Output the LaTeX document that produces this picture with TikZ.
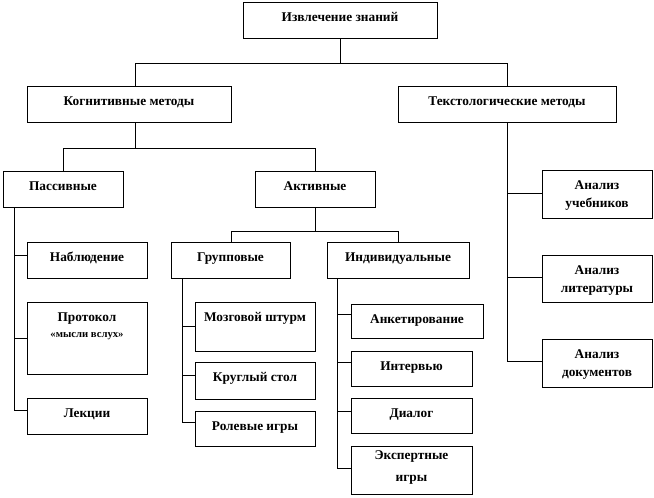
\documentclass[tikz,border=0pt]{standalone}
\usepackage{fontspec}
\setmainfont{Liberation Serif}
\usetikzlibrary{fit,calc}
\tikzset{
  box/.style={draw=black, line width=0.75pt, inner sep=0pt, fill=white},
  txt/.style={font=\bfseries\fontsize{10}{13.5}\selectfont, inner sep=0pt, align=center},
  conn/.style={draw=black, line width=0.75pt}
}
\newcommand\bx[6]{%
  \node[box, fit={(#2,#3) (#4,#5)}] (#1) {};
  \node[txt, anchor=base] (#1-t) at ($(#1.north)+(0,19)$) {#6};
}
\newcommand\bxii[8]{%
  \node[box, fit={(#2,#3) (#4,#5)}] (#1) {};
  \node[txt, anchor=base] (#1-t) at ($(#1.north)+(0,19)$) {#6};
  \node[txt, anchor=base] (#1-u) at ($(#1.north)+(0,#8)$) {#7};
}
\begin{document}
\begin{tikzpicture}[x=0.75pt,y=-0.75pt]
\useasboundingbox (0,0) rectangle (654,498);
\fill[white] (0,0) rectangle (654,498);
% boxes
\bx{top}{243}{3}{437}{39}{Извлечение знаний}
\bx{kog}{27}{87}{231}{123}{Когнитивные методы}
\bx{tek}{398}{87}{616}{123}{Текстологические методы}
\bx{pas}{3}{172}{123}{208}{Пассивные}
\bx{akt}{255}{172}{375}{208}{Активные}
\bx{grp}{171}{243}{290}{279}{Групповые}
\bx{ind}{327}{243}{469}{279}{Индивидуальные}
\bx{nab}{27}{243}{147}{279}{Наблюдение}
\node[box, fit={(27,303) (147,375)}] (prot) {};
\node[txt, anchor=base] (prot-t) at ($(prot.north)+(0,19)$) {Протокол};
\node[txt, anchor=base, font=\bfseries\fontsize{8}{10}\selectfont] (prot-t2) at ($(prot.north)+(0,35)$) {«мысли вслух»};
\bx{lek}{27}{399}{147}{435}{Лекции}
\bx{moz}{195}{303}{315}{352}{Мозговой штурм}
\bx{kru}{195}{363}{315}{400}{Круглый стол}
\bx{rol}{195}{412}{315}{447}{Ролевые игры}
\bx{ank}{351}{305}{483}{339}{Анкетирование}
\bx{int}{351}{352}{472}{387}{Интервью}
\bx{dia}{351}{399}{472}{434}{Диалог}
\node[box, fit={(351,447) (472,495)}] (eks) {};
\node[txt, anchor=base] (eks-t) at ($(eks.north)+(0,13)$) {Экспертные};
\node[txt, anchor=base] (eks-t2) at ($(eks.north)+(0,35)$) {игры};
\bxii{ucheb}{542}{171}{652}{219}{Анализ}{учебников}{37}
\bxii{lit}{542}{256}{652}{303}{Анализ}{литературы}{37}
\bxii{doc}{542}{340}{652}{388}{Анализ}{документов}{37}
% branch coordinates
\coordinate (b1) at ($(top.south)+(0,24)$);
\coordinate (kogx) at ($(kog.north)+(6,0)$);
\coordinate (kogxs) at ($(kog.south)+(6,0)$);
\coordinate (b2) at ($(kogxs)+(0,25)$);
\coordinate (b3) at ($(akt.south)+(0,23)$);
\coordinate (grpx) at ($(grp.north)+(0.5,0)$);
\coordinate (indx) at ($(ind.north)+(0,0)$);
\coordinate (pasS) at ($(pas.south west)+(12,0)$);
\coordinate (grpS) at ($(grp.south west)+(12,0)$);
\coordinate (indS) at ($(ind.south west)+(11,0)$);
% level 1
\draw[conn] (top.south) -- (b1);
\draw[conn] (kogx) |- (b1) -| (tek.north);
% level 2
\draw[conn] (kogxs) -- (b2);
\draw[conn] (pas.north) |- (b2) -| (akt.north);
% level 3
\draw[conn] (akt.south) -- (b3);
\draw[conn] (grpx) |- (b3) -| (indx);
% passive spine
\draw[conn] (pasS) |- ($(nab.north west)+(0,13)$);
\draw[conn] (pasS) |- ($(prot.north west)+(0,36)$);
\draw[conn] (pasS) |- ($(lek.north west)+(0,12)$);
% group spine
\draw[conn] (grpS) |- ($(moz.north west)+(0,24)$);
\draw[conn] (grpS) |- ($(kru.north west)+(0,13)$);
\draw[conn] (grpS) |- ($(rol.north west)+(0,11)$);
% individual spine
\draw[conn] (indS) |- ($(ank.north west)+(0,10)$);
\draw[conn] (indS) |- ($(int.north west)+(0,11)$);
\draw[conn] (indS) |- ($(dia.north west)+(0,13)$);
\draw[conn] (indS) |- ($(eks.north west)+(0,22)$);
% text spine
\draw[conn] (tek.south) |- ($(ucheb.north west)+(0,23)$);
\draw[conn] (tek.south) |- ($(lit.north west)+(0,22)$);
\draw[conn] (tek.south) |- ($(doc.north west)+(0,22)$);
\end{tikzpicture}
\end{document}
